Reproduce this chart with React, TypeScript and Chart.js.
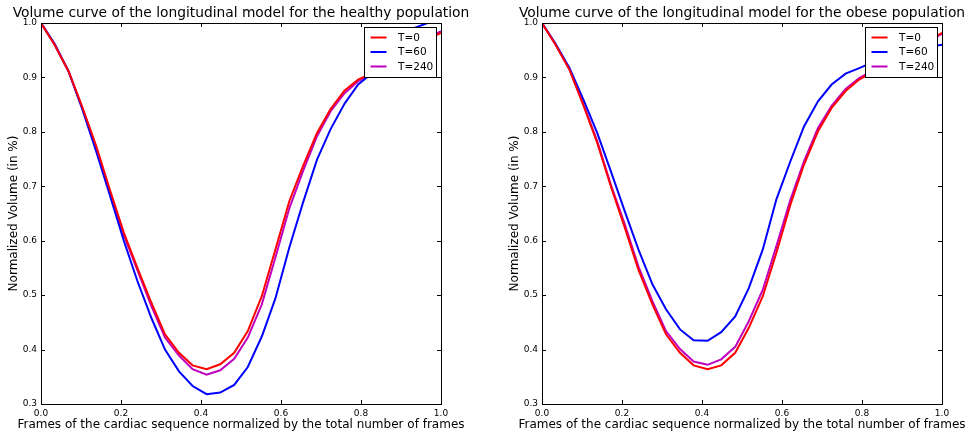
import React, { useEffect, useRef } from "react";
import { Chart, registerables } from "chart.js";

Chart.register(...registerables);

// Normalized frame positions (30 frames)
const frames = [
  0, 0.034, 0.069, 0.103, 0.138, 0.172, 0.207, 0.241, 0.276, 0.31, 0.345, 0.379, 0.414, 0.448, 0.483,
  0.517, 0.552, 0.586, 0.621, 0.655, 0.69, 0.724, 0.759, 0.793, 0.828, 0.862, 0.897, 0.931, 0.966, 1.0,
];

const seriesLabels = ["T=0", "T=60", "T=240"];
const seriesColors = ["#ff0000", "#0000ff", "#bf00bf"];

const xTicks = [0, 0.2, 0.4, 0.6, 0.8, 1.0];
const yTicks = [0.3, 0.4, 0.5, 0.6, 0.7, 0.8, 0.9, 1.0];

// Healthy population
const healthyT0 = [
  1.0, 0.96, 0.911, 0.846, 0.774, 0.694, 0.615, 0.55, 0.486, 0.428, 0.394, 0.371, 0.364, 0.373, 0.394,
  0.434, 0.498, 0.584, 0.673, 0.737, 0.798, 0.842, 0.876, 0.896, 0.908, 0.925, 0.94, 0.955, 0.97, 0.982,
];
const healthyT60 = [
  1.0, 0.962, 0.911, 0.842, 0.764, 0.684, 0.6, 0.526, 0.458, 0.4, 0.36, 0.333, 0.318, 0.321, 0.335,
  0.368, 0.424, 0.494, 0.588, 0.67, 0.749, 0.805, 0.852, 0.887, 0.908, 0.935, 0.963, 0.99, 1.0, 1.012,
];
const healthyT240 = [
  1.0, 0.96, 0.911, 0.845, 0.771, 0.69, 0.61, 0.546, 0.48, 0.422, 0.389, 0.364, 0.354, 0.362, 0.383,
  0.422, 0.483, 0.569, 0.66, 0.728, 0.792, 0.838, 0.871, 0.893, 0.907, 0.925, 0.94, 0.956, 0.972, 0.985,
];

// Obese population
const obeseT0 = [
  1.0, 0.96, 0.914, 0.85, 0.78, 0.7, 0.624, 0.547, 0.483, 0.428, 0.394, 0.371, 0.364, 0.371, 0.394,
  0.44, 0.498, 0.578, 0.666, 0.74, 0.801, 0.844, 0.875, 0.896, 0.911, 0.925, 0.94, 0.955, 0.968, 0.982,
];
const obeseT60 = [
  1.0, 0.962, 0.917, 0.86, 0.798, 0.728, 0.654, 0.584, 0.52, 0.474, 0.437, 0.417, 0.416, 0.432, 0.461,
  0.513, 0.584, 0.676, 0.746, 0.81, 0.856, 0.887, 0.907, 0.917, 0.928, 0.937, 0.944, 0.951, 0.956, 0.96,
];
const obeseT240 = [
  1.0, 0.96, 0.914, 0.851, 0.783, 0.703, 0.63, 0.553, 0.489, 0.434, 0.401, 0.378, 0.372, 0.382, 0.405,
  0.452, 0.51, 0.59, 0.675, 0.746, 0.807, 0.848, 0.879, 0.899, 0.913, 0.926, 0.94, 0.954, 0.967, 0.98,
];

const FONT = "'DejaVu Sans', sans-serif";

const decorPlugin = {
  id: "decor",
  afterDraw(chart: any, _args: any, opts: any) {
    const { ctx, chartArea: a, scales } = chart;
    const xs = scales.x;
    const ys = scales.y;
    ctx.save();

    // legend box (upper right, inside axes)
    const bw = 72;
    const bh = 50;
    const bx = a.right - 5 - bw;
    const by = a.top + 4;
    ctx.fillStyle = "#ffffff";
    ctx.fillRect(bx, by, bw, bh);
    ctx.strokeStyle = "#000";
    ctx.lineWidth = 1;
    ctx.strokeRect(Math.round(bx) + 0.5, Math.round(by) + 0.5, bw, bh);
    ctx.font = `10.5px ${FONT}`;
    ctx.textBaseline = "middle";
    ctx.textAlign = "left";
    chart.data.datasets.forEach((ds: any, i: number) => {
      const cy = by + 10.5 + i * 14.5;
      ctx.strokeStyle = ds.borderColor;
      ctx.lineWidth = 2;
      ctx.beginPath();
      ctx.moveTo(bx + 6.5, cy);
      ctx.lineTo(bx + 22.5, cy);
      ctx.stroke();
      ctx.fillStyle = "#000";
      ctx.fillText(ds.label, bx + 34, cy + 0.5);
    });

    // inward ticks on all four sides
    ctx.strokeStyle = "#000";
    ctx.lineWidth = 1;
    ctx.beginPath();
    const tl = 4;
    for (const t of xs.ticks) {
      const px = Math.round(xs.getPixelForValue(t.value)) + 0.5;
      ctx.moveTo(px, a.bottom);
      ctx.lineTo(px, a.bottom - tl);
      ctx.moveTo(px, a.top);
      ctx.lineTo(px, a.top + tl);
    }
    for (const t of ys.ticks) {
      const py = Math.round(ys.getPixelForValue(t.value)) + 0.5;
      ctx.moveTo(a.left, py);
      ctx.lineTo(a.left + tl, py);
      ctx.moveTo(a.right, py);
      ctx.lineTo(a.right - tl, py);
    }
    ctx.stroke();

    // frame
    ctx.strokeRect(Math.round(a.left) + 0.5, Math.round(a.top) + 0.5, Math.round(a.right - a.left), Math.round(a.bottom - a.top));

    // title
    const cx = (a.left + a.right) / 2;
    ctx.fillStyle = "#000";
    ctx.textAlign = "center";
    ctx.textBaseline = "alphabetic";
    ctx.font = `13.8px ${FONT}`;
    ctx.fillText(opts.title, cx, 17);

    // x-axis title
    ctx.font = `12px ${FONT}`;
    ctx.textBaseline = "middle";
    ctx.fillText(opts.xTitle, cx, 425);

    // y-axis title
    ctx.save();
    ctx.translate(a.left - 27, (a.top + a.bottom) / 2);
    ctx.rotate(-Math.PI / 2);
    ctx.fillText(opts.yTitle, 0, 0);
    ctx.restore();

    ctx.restore();
  },
};

type PanelProps = {
  title: string;
  series: number[][];
  padLeft: number;
  padRight: number;
};

function Panel({ title, series, padLeft, padRight }: PanelProps) {
  const ref = useRef<HTMLCanvasElement | null>(null);
  useEffect(() => {
    if (!ref.current) return;
    const chart = new Chart(ref.current, {
      type: "line",
      data: {
        datasets: series.map((vals, i) => ({
          label: seriesLabels[i],
          data: frames.map((f, j) => ({ x: f, y: vals[j] })),
          borderColor: seriesColors[i],
          backgroundColor: seriesColors[i],
          borderWidth: 2,
          pointRadius: 0,
          tension: 0,
          fill: false,
          clip: 0,
        })),
      },
      options: {
        responsive: false,
        animation: false,
        devicePixelRatio: 1,
        layout: { padding: { left: padLeft, right: padRight, top: 23, bottom: 0 } },
        plugins: {
          legend: { display: false },
          title: { display: false },
          tooltip: { enabled: false },
          decor: {
            title,
            xTitle: "Frames of the cardiac sequence normalized by the total number of frames",
            yTitle: "Normalized Volume (in %)",
          },
        } as any,
        scales: {
          x: {
            type: "linear",
            min: 0,
            max: 1,
            afterFit: (s: any) => {
              s.height = 32;
            },
            afterBuildTicks: (s: any) => {
              s.ticks = xTicks.map((v) => ({ value: v }));
            },
            grid: { display: false, drawTicks: false },
            border: { display: false },
            ticks: {
              padding: 4,
              maxRotation: 0,
              color: "#000",
              font: { family: FONT, size: 9 },
              callback: (v: any) => Number(v).toFixed(1),
            },
          },
          y: {
            type: "linear",
            min: 0.3,
            max: 1.0,
            afterFit: (s: any) => {
              s.width = 41;
            },
            afterBuildTicks: (s: any) => {
              s.ticks = yTicks.map((v) => ({ value: v }));
            },
            grid: { display: false, drawTicks: false },
            border: { display: false },
            ticks: {
              padding: 4,
              color: "#000",
              font: { family: FONT, size: 9 },
              callback: (v: any) => Number(v).toFixed(1),
            },
          },
        },
      },
      plugins: [decorPlugin],
    });
    return () => chart.destroy();
  }, []);
  return (
    <div style={{ width: 484, height: 436, position: "relative" }}>
      <canvas ref={ref} width={484} height={436} style={{ display: "block" }} />
    </div>
  );
}

export default function App() {
  return (
    <div
      style={{
        position: "absolute",
        left: 0,
        top: 0,
        width: 968,
        height: 436,
        display: "flex",
        background: "#fff",
      }}
    >
      <Panel
        title="Volume curve of the longitudinal model for the healthy population"
        series={[healthyT0, healthyT60, healthyT240]}
        padLeft={0}
        padRight={43}
      />
      <Panel
        title="Volume curve of the longitudinal model for the obese population"
        series={[obeseT0, obeseT60, obeseT240]}
        padLeft={17}
        padRight={26}
      />
    </div>
  );
}
